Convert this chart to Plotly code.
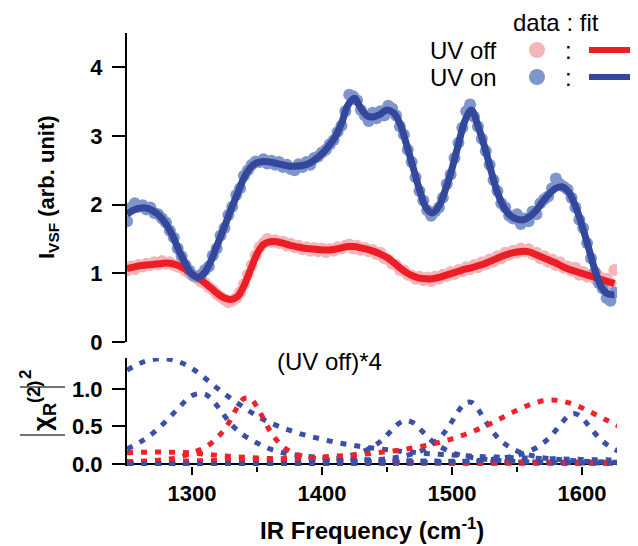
import plotly.graph_objects as go

# ---------------- data ----------------
FREQ_START = 1250
DATA_STEP = 3          # cm-1 spacing of measured points
FIT_STEP = 5           # cm-1 spacing of fit curve samples

uv_off_data = [1.04,1.10,1.06,1.12,1.10,1.14,1.12,1.16,1.13,1.18,
               1.14,1.16,1.12,1.10,1.08,1.04,1.00,0.96,0.93,0.88,
               0.86,0.80,0.76,0.70,0.66,0.62,0.58,0.60,0.64,0.72,
               0.84,0.98,1.12,1.26,1.38,1.44,1.50,1.46,1.48,1.44,
               1.46,1.40,1.43,1.38,1.40,1.35,1.38,1.33,1.37,1.32,
               1.36,1.31,1.35,1.33,1.38,1.36,1.40,1.42,1.36,1.40,
               1.34,1.37,1.32,1.34,1.28,1.30,1.22,1.20,1.14,1.12,
               1.05,1.04,0.98,0.97,0.92,0.95,0.90,0.94,0.89,0.95,
               0.92,0.98,0.96,1.02,0.99,1.05,1.03,1.09,1.06,1.12,
               1.09,1.16,1.13,1.20,1.17,1.25,1.22,1.30,1.27,1.33,
               1.30,1.36,1.32,1.35,1.28,1.30,1.22,1.25,1.17,1.20,
               1.12,1.16,1.08,1.10,1.04,1.08,0.98,1.02,0.95,0.98,
               0.92,0.96,0.88,0.92,0.86,1.05]

uv_on_data = [1.76,1.95,2.02,1.97,1.99,1.93,1.96,1.88,1.86,1.80,
              1.74,1.62,1.52,1.36,1.25,1.12,1.04,0.97,0.95,0.98,
              1.05,1.10,1.26,1.36,1.55,1.66,1.85,1.97,2.14,2.24,
              2.42,2.50,2.58,2.63,2.62,2.66,2.60,2.64,2.58,2.62,
              2.55,2.58,2.52,2.50,2.59,2.55,2.62,2.58,2.68,2.70,
              2.76,2.80,2.88,2.94,3.06,3.15,3.36,3.60,3.58,3.52,
              3.38,3.30,3.22,3.34,3.26,3.36,3.30,3.44,3.40,3.30,
              3.14,3.02,2.80,2.62,2.40,2.20,2.06,1.92,1.84,1.90,
              1.96,2.10,2.30,2.44,2.68,2.90,3.12,3.36,3.46,3.28,
              3.14,2.96,2.78,2.58,2.36,2.20,2.02,1.96,1.84,1.80,
              1.86,1.72,1.80,1.76,1.90,1.86,2.02,2.08,2.12,2.24,
              2.38,2.30,2.26,2.22,2.10,1.96,1.78,1.66,1.44,1.22,
              1.02,0.86,0.78,0.64,0.60,0.72]

uv_off_fit = [1.07,1.09,1.11,1.12,1.13,1.14,1.15,1.14,1.11,1.06,
              0.99,0.93,0.86,0.78,0.70,0.64,0.62,0.66,0.82,1.05,
              1.28,1.42,1.46,1.46,1.44,1.41,1.39,1.37,1.36,1.35,
              1.34,1.34,1.35,1.37,1.39,1.39,1.37,1.35,1.32,1.28,
              1.23,1.16,1.08,1.01,0.96,0.93,0.92,0.92,0.94,0.97,
              1.00,1.03,1.06,1.08,1.11,1.14,1.18,1.22,1.26,1.29,
              1.31,1.32,1.31,1.27,1.23,1.19,1.15,1.10,1.06,1.03,
              1.00,0.97,0.94,0.91,0.88,0.85]

uv_on_fit = [1.86,1.92,1.95,1.95,1.91,1.84,1.72,1.55,1.33,1.14,
             0.99,0.94,1.02,1.20,1.44,1.68,1.93,2.16,2.39,2.54,
             2.61,2.63,2.62,2.60,2.58,2.56,2.56,2.57,2.60,2.66,
             2.74,2.85,2.98,3.18,3.45,3.55,3.40,3.29,3.28,3.32,
             3.38,3.34,3.18,2.88,2.55,2.22,1.96,1.88,1.98,2.22,
             2.52,2.88,3.22,3.38,3.15,2.85,2.50,2.18,1.96,1.84,
             1.79,1.78,1.83,1.92,2.05,2.16,2.24,2.26,2.18,1.98,
             1.70,1.38,1.05,0.80,0.70,0.69]

# |chi_R(2)|^2 components (UV on = blue, (UV off)*4 = red)
chi_x10 = list(range(1250, 1631, 10))

blue_c1 = [1.25,1.34,1.39,1.40,1.36,1.27,1.14,1.00,0.87,0.75,
           0.64,0.55,0.48,0.42,0.37,0.33,0.29,0.26,0.23,0.21,
           0.19,0.17,0.155,0.14,0.13,0.12,0.11,0.10,0.095,0.088,
           0.082,0.077,0.072,0.068,0.064,0.060,0.057,0.054,0.051]
blue_c2 = [0.20,0.29,0.41,0.57,0.75,0.91,0.93,0.76,0.53,0.38,
           0.28,0.20,0.15,0.12,0.10,0.085,0.075,0.066,0.060,0.054,
           0.050,0.046,0.042,0.040,0.037,0.035,0.033,0.031,0.030,0.028,
           0.027,0.026,0.025,0.024,0.023,0.022,0.021,0.020,0.020]
blue_c6 = [0.004,0.004,0.004,0.005,0.005,0.005,0.005,0.005,0.006,0.006,
           0.006,0.006,0.006,0.007,0.007,0.007,0.007,0.008,0.008,0.008,
           0.008,0.009,0.009,0.009,0.010,0.010,0.010,0.011,0.011,0.012,
           0.012,0.013,0.013,0.014,0.014,0.015,0.015,0.016,0.016]
red_c2 = [0.030,0.031,0.033,0.036,0.038,0.041,0.044,0.047,0.050,0.054,
          0.059,0.064,0.070,0.077,0.084,0.093,0.103,0.115,0.128,0.145,
          0.164,0.186,0.214,0.246,0.286,0.334,0.392,0.461,0.540,0.627,
          0.714,0.790,0.840,0.848,0.814,0.747,0.662,0.574,0.491]
red_c3 = [0.150,0.155,0.158,0.158,0.155,0.148,0.130,0.115,0.100,0.090,
          0.080,0.072,0.065,0.060,0.055,0.050,0.046,0.043,0.040,0.037,
          0.035,0.033,0.031,0.029,0.028,0.026,0.025,0.024,0.023,0.022,
          0.021,0.020,0.019,0.018,0.018,0.017,0.016,0.016,0.015]
red_c4 = [0.010,0.010,0.011,0.011,0.011,0.012,0.012,0.012,0.013,0.013,
          0.013,0.014,0.014,0.014,0.015,0.015,0.015,0.016,0.016,0.016,
          0.016,0.017,0.017,0.017,0.017,0.017,0.017,0.017,0.017,0.017,
          0.016,0.016,0.016,0.015,0.015,0.015,0.014,0.014,0.014]

red_c1_x = [1250,1260,1270,1280,1290,1300,1305,1310,1315,1320,1325,1330,1335,1340,
            1345,1350,1355,1360,1365,1370,1375,1380,1390,1400,1410,1420,1440,1460,
            1480,1500,1520,1540,1560,1580,1600,1630]
red_c1 = [0.030,0.035,0.045,0.060,0.090,0.150,0.180,0.220,0.280,0.360,0.460,0.600,
          0.760,0.870,0.870,0.760,0.600,0.440,0.320,0.230,0.170,0.130,0.085,0.060,
          0.048,0.040,0.030,0.024,0.020,0.017,0.015,0.013,0.012,0.011,0.010,0.009]

blue_c3_x = [1250,1280,1310,1340,1370,1390,1400,1410,1420,1430,1440,1445,1450,1455,
             1460,1465,1470,1475,1480,1485,1490,1500,1510,1520,1540,1560,1580,1600,1630]
blue_c3 = [0.006,0.007,0.011,0.016,0.027,0.042,0.055,0.074,0.104,0.153,0.240,0.300,
           0.384,0.473,0.549,0.580,0.549,0.473,0.384,0.300,0.240,0.153,0.104,0.074,
           0.042,0.027,0.019,0.014,0.009]

blue_c4_x = [1250,1300,1350,1400,1430,1450,1460,1470,1480,1490,1495,1500,1505,1510,
             1515,1520,1525,1530,1535,1540,1550,1560,1570,1580,1600,1630]
blue_c4 = [0.004,0.007,0.011,0.023,0.041,0.069,0.095,0.136,0.206,0.337,0.437,0.565,
           0.705,0.810,0.820,0.730,0.593,0.461,0.355,0.275,0.173,0.117,0.083,0.062,
           0.038,0.021]

blue_c5_x = [1250,1300,1350,1400,1450,1480,1500,1520,1535,1545,1555,1565,1570,1575,
             1580,1585,1590,1595,1600,1605,1610,1615,1620,1625,1630]
blue_c5 = [0.002,0.003,0.005,0.007,0.013,0.020,0.029,0.046,0.069,0.096,0.140,0.216,
           0.275,0.352,0.450,0.557,0.644,0.668,0.615,0.515,0.409,0.319,0.249,0.197,0.158]

x_ticks = [1300, 1400, 1500, 1600]
y_ticks_top = [0, 1, 2, 3, 4]
y_ticks_bot = [0, 0.5, 1.0]
y_ticktext_bot = ["0.0", "0.5", "1.0"]

# ---------------- style / layout ----------------
# The page body adds an 8px offset, so the figure is drawn 8px smaller and
# reference pixel positions are shifted by OFF.
OFF = 8
W, H = 638 - OFF, 546 - OFF
ML, MR, MT, MB = 127 - OFF, 21, 33 - OFF, 80
PW, PH = W - ML - MR, H - MT - MB
FONT = "Liberation Sans, Arial, Helvetica, sans-serif"

PINK = "#f5b4b7"
LBLUE = "#7e95cd"
RED = "#ec1d25"
DBLUE = "#33479b"
DOT_RED = "#ee2228"
DOT_BLUE = "#3a4fa6"


def pxx(x):
    return (x - OFF - ML) / PW


def pxy(y):
    return (H - MB - (y - OFF)) / PH


data_x = [FREQ_START + DATA_STEP * i for i in range(len(uv_on_data))]
fit_x = [FREQ_START + FIT_STEP * i for i in range(len(uv_on_fit))]

fig = go.Figure()

# top panel
fig.add_trace(go.Scatter(x=data_x, y=uv_off_data, mode="markers",
                         marker=dict(color=PINK, size=12, line=dict(width=0)),
                         xaxis="x", yaxis="y", showlegend=False))
fig.add_trace(go.Scatter(x=data_x, y=uv_on_data, mode="markers",
                         marker=dict(color=LBLUE, size=12, line=dict(width=0)),
                         xaxis="x", yaxis="y", showlegend=False))
fig.add_trace(go.Scatter(x=fit_x, y=uv_off_fit, mode="lines",
                         line=dict(color=RED, width=7, shape="spline", smoothing=1.0),
                         xaxis="x", yaxis="y", showlegend=False))
fig.add_trace(go.Scatter(x=fit_x, y=uv_on_fit, mode="lines",
                         line=dict(color=DBLUE, width=7, shape="spline", smoothing=1.0),
                         xaxis="x", yaxis="y", showlegend=False))

# bottom panel
DOT = "6px,8px"
comps = [
    (chi_x10, red_c4, DOT_RED),
    (chi_x10, blue_c6, DOT_BLUE),
    (chi_x10, red_c3, DOT_RED),
    (chi_x10, blue_c1, DOT_BLUE),
    (chi_x10, blue_c2, DOT_BLUE),
    (red_c1_x, red_c1, DOT_RED),
    (blue_c3_x, blue_c3, DOT_BLUE),
    (blue_c4_x, blue_c4, DOT_BLUE),
    (chi_x10, red_c2, DOT_RED),
    (blue_c5_x, blue_c5, DOT_BLUE),
]
for xs, ys, col in comps:
    fig.add_trace(go.Scatter(x=xs, y=ys, mode="lines",
                             line=dict(color=col, width=5, dash=DOT,
                                       shape="spline", smoothing=1.0),
                             xaxis="x2", yaxis="y2", showlegend=False))

XR = [1250, 1627]
top_y0 = pxy(342)
bot_y1 = pxy(358)

tickfont = dict(family=FONT, size=22, color="black", weight="bold")

fig.update_layout(
    width=W, height=H,
    margin=dict(l=ML, r=MR, t=MT, b=MB),
    paper_bgcolor="white", plot_bgcolor="white",
    font=dict(family=FONT, color="black"),
    xaxis=dict(domain=[0, 1], range=XR, anchor="y", visible=False),
    yaxis=dict(domain=[top_y0, 1], range=[0, 4.5], anchor="x",
               tickvals=y_ticks_top, ticks="outside", ticklen=13, tickwidth=2,
               tickcolor="black", showline=True, linecolor="black", linewidth=2,
               showgrid=False, zeroline=False, tickfont=tickfont,
               ticklabelstandoff=5),
    xaxis2=dict(domain=[0, 1], range=XR, anchor="y2",
                tickvals=x_ticks, ticks="outside", ticklen=8, tickwidth=2,
                tickcolor="black", showline=False, showgrid=False, zeroline=False,
                tickfont=tickfont,
                minor=dict(tickvals=[1350, 1450, 1550], ticks="outside",
                           ticklen=5, tickwidth=2, tickcolor="black")),
    yaxis2=dict(domain=[0, bot_y1], range=[-0.027, 1.41], anchor="x2",
                tickvals=y_ticks_bot, ticktext=y_ticktext_bot,
                ticks="outside", ticklen=13, tickwidth=2, tickcolor="black",
                showline=True, linecolor="black", linewidth=2, showgrid=False,
                zeroline=True, zerolinecolor="black", zerolinewidth=2,
                tickfont=tickfont, ticklabelstandoff=5),
)

ann = []
bold = dict(family=FONT, size=22, color="black", weight="bold")
normal = dict(family=FONT, size=24, color="black")
ann.append(dict(text="I<sub>VSF</sub> (arb. unit)", x=pxx(48), y=pxy(187),
                xref="paper", yref="paper", showarrow=False, textangle=-90,
                xanchor="center", yanchor="middle", font=bold))
# |chi_R(2)|^2 : chi with sub/superscript, bars drawn as long strokes, outer square
ann.append(dict(text="χ<sub>R</sub><sup>(2)</sup>", x=pxx(42), y=pxy(406),
                xref="paper", yref="paper", showarrow=False, textangle=-90,
                xanchor="center", yanchor="middle", font=dict(bold, size=26)))
ann.append(dict(text="2", x=pxx(25), y=pxy(375),
                xref="paper", yref="paper", showarrow=False, textangle=-90,
                xanchor="center", yanchor="middle", font=dict(bold, size=17)))
ann.append(dict(text="IR Frequency (cm<sup>-1</sup>)", x=pxx(372), y=pxy(529),
                xref="paper", yref="paper", showarrow=False,
                xanchor="center", yanchor="middle", font=dict(bold, size=24)))
ann.append(dict(text="(UV off)*4", x=pxx(329), y=pxy(361),
                xref="paper", yref="paper", showarrow=False,
                xanchor="center", yanchor="middle", font=normal))
# legend
ann.append(dict(text="data : fit", x=pxx(556), y=pxy(22), xref="paper", yref="paper",
                showarrow=False, xanchor="center", yanchor="middle", font=normal))
for label, yy in [("UV off", 50), ("UV on", 77)]:
    ann.append(dict(text=label, x=pxx(499), y=pxy(yy), xref="paper", yref="paper",
                    showarrow=False, xanchor="right", yanchor="middle", font=normal))
    ann.append(dict(text=":", x=pxx(568), y=pxy(yy), xref="paper", yref="paper",
                    showarrow=False, xanchor="center", yanchor="middle", font=normal))
fig.update_layout(annotations=ann)

shapes = []
# absolute-value bars of the rotated |chi|^2 label
for yy in (387, 435):
    shapes.append(dict(type="line", xref="paper", yref="paper",
                       x0=pxx(20), x1=pxx(65), y0=pxy(yy), y1=pxy(yy),
                       line=dict(color="#444444", width=1.5)))
for yy, mc, lc in [(50, PINK, RED), (77, LBLUE, DBLUE)]:
    shapes.append(dict(type="circle", xref="paper", yref="paper",
                       x0=pxx(529), x1=pxx(545), y0=pxy(yy + 8), y1=pxy(yy - 8),
                       fillcolor=mc, line=dict(width=0)))
    shapes.append(dict(type="line", xref="paper", yref="paper",
                       x0=pxx(589), x1=pxx(635), y0=pxy(yy), y1=pxy(yy),
                       line=dict(color=lc, width=6)))
fig.update_layout(shapes=shapes)

fig.write_html("out.html")
